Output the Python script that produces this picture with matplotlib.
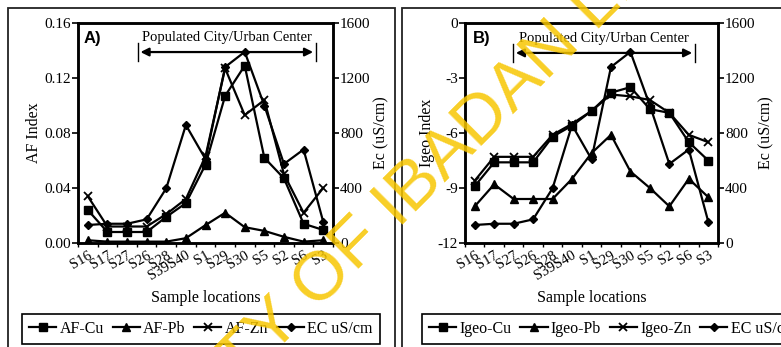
import numpy as np
import matplotlib
matplotlib.use("Agg")
import matplotlib.pyplot as plt
from matplotlib.patches import Rectangle

plt.rcParams['font.family'] = ['Liberation Serif', 'DejaVu Serif']

sites = ['S16', 'S17', 'S27', 'S26', 'S28', 'S39S40', 'S1', 'S29', 'S30', 'S5', 'S2', 'S6', 'S3']

af_cu = [0.024, 0.008, 0.008, 0.008, 0.019, 0.029, 0.057, 0.107, 0.129, 0.062, 0.047, 0.014, 0.0095]
af_pb = [0.002, 0.001, 0.001, 0.001, 0.001, 0.0035, 0.013, 0.022, 0.0115, 0.0088, 0.0045, 0.001, 0.002]
af_zn = [0.034, 0.012, 0.012, 0.012, 0.021, 0.032, 0.063, 0.127, 0.093, 0.104, 0.050, 0.022, 0.040]

igeo_cu = [-8.9, -7.6, -7.6, -7.6, -6.2, -5.6, -4.8, -3.8, -3.5, -4.7, -4.9, -6.5, -7.5]
igeo_pb = [-10.0, -8.8, -9.6, -9.6, -9.6, -8.5, -7.1, -6.1, -8.1, -9.0, -10.0, -8.5, -9.5]
igeo_zn = [-8.6, -7.3, -7.3, -7.3, -6.1, -5.5, -4.8, -3.9, -4.0, -4.2, -4.9, -6.1, -6.5]

ec = [131, 140, 140, 172, 398, 858, 610, 1280, 1390, 1000, 575, 680, 155]

fig = plt.figure(figsize=(7.81, 3.47), dpi=100)

# panel frames
fig.patches.append(Rectangle((8/781, -0.05), (395-8)/781, 1 - 8/347 + 0.05, transform=fig.transFigure,
                             fill=False, lw=1.3, ec='#222222'))
fig.patches.append(Rectangle((402/781, -0.05), 0.6, 1 - 8/347 + 0.05, transform=fig.transFigure,
                             fill=False, lw=1.3, ec='#222222'))

x = np.arange(len(sites))


def panel(rect, s_cu, s_pb, s_zn, ylim, yticks, ylabel, tag, names, arrow, leg_x):
    ax = fig.add_axes(rect)
    ax2 = ax.twinx()
    kw = dict(color='black', lw=1.6, ms=6)
    l1, = ax.plot(x, s_cu, marker='s', label=names[0], **kw)
    l2, = ax.plot(x, s_pb, marker='^', label=names[1], **kw)
    l3, = ax.plot(x, s_zn, marker='x', mew=1.3, label=names[2], **kw)
    l4, = ax2.plot(x, ec, marker='D', label='EC uS/cm', color='black', lw=1.6, ms=4.5)
    ax.set_xlim(-0.5, len(sites) - 0.5)
    ax.set_ylim(*ylim)
    ax.set_yticks(yticks)
    if ylim[0] < 0:
        ax.set_yticklabels(['%d' % t for t in yticks])
    else:
        ax.set_yticklabels(['%.2f' % t for t in yticks])
    ax2.set_ylim(0, 1600)
    ax2.set_yticks([0, 400, 800, 1200, 1600])
    ax.set_xticks(np.arange(-0.5, len(sites)), minor=False)
    ax.set_xticklabels([])
    ax.set_xticks(x, minor=True)
    ax.set_xticklabels(sites, minor=True, rotation=30, ha='right', rotation_mode='anchor', fontsize=10.5)
    ax.tick_params(axis='x', which='minor', length=0, pad=4)
    ax.tick_params(axis='x', which='major', length=3, direction='out', width=1)
    ax.tick_params(axis='y', length=4, width=1.2, labelsize=11, pad=1)
    ax2.tick_params(axis='y', length=4, width=1.2, labelsize=11, pad=1)
    for a in (ax, ax2):
        for sp in a.spines.values():
            sp.set_linewidth(1.8)
    ax.set_xlabel('Sample locations', fontsize=11.5, labelpad=5)
    ax.set_ylabel(ylabel, fontsize=11.5, labelpad=2)
    ax2.set_ylabel('Ec (uS/cm)', fontsize=11.5, labelpad=2)
    ax.text(tag[1], 0.93, tag[0], transform=ax.transAxes, fontsize=12, fontweight='bold',
            family=['Liberation Sans', 'DejaVu Sans'], va='center')
    ax.annotate('', xy=(arrow[0], arrow[2]), xytext=(arrow[1], arrow[2]), xycoords='axes fraction',
                arrowprops=dict(arrowstyle='<|-|>', color='black', lw=1.6, mutation_scale=12))
    ax.plot([arrow[0], arrow[0]], [arrow[2] - 0.04, arrow[2] + 0.04], transform=ax.transAxes, color='black', lw=1)
    ax.plot([arrow[1], arrow[1]], [arrow[2] - 0.04, arrow[2] + 0.04], transform=ax.transAxes, color='black', lw=1)
    ax.text((arrow[0] + arrow[1]) / 2, arrow[2] + 0.065, 'Populated City/Urban Center', transform=ax.transAxes,
            ha='center', va='center', fontsize=10.5)
    leg = fig.legend(handles=[l1, l2, l3, l4], loc='center left', bbox_to_anchor=(leg_x, 0.052), ncol=4,
                     fontsize=11.5, frameon=True, fancybox=False, edgecolor='black', framealpha=1,
                     handlelength=1.7, handletextpad=0.2, columnspacing=0.55, borderpad=0.45,
                     borderaxespad=0)
    leg.get_frame().set_linewidth(1.2)
    return ax


panel([78/781, 0.2997, 255/781, 0.634], af_cu, af_pb, af_zn, (0, 0.16), [0, 0.04, 0.08, 0.12, 0.16],
      'AF Index', ('A)', 0.02), ['AF-Cu', 'AF-Pb', 'AF-Zn'], (0.234, 0.933, 0.868), 22/781)
panel([465/781, 0.2997, 253/781, 0.634], igeo_cu, igeo_pb, igeo_zn, (-12, 0), [-12, -9, -6, -3, 0],
      'Igeo Index', ('B)', 0.03), ['Igeo-Cu', 'Igeo-Pb', 'Igeo-Zn'], (0.19, 0.909, 0.864), 422/781)

# scan watermark
fig.text(0.505, 0.40, 'UNIVERSITY OF IBADAN LIBRARY', rotation=45, fontsize=50, color='#f7c600', alpha=0.85,
         ha='center', va='center', family=['Liberation Sans', 'DejaVu Sans'], zorder=10)

fig.savefig('out.png', dpi=100)
